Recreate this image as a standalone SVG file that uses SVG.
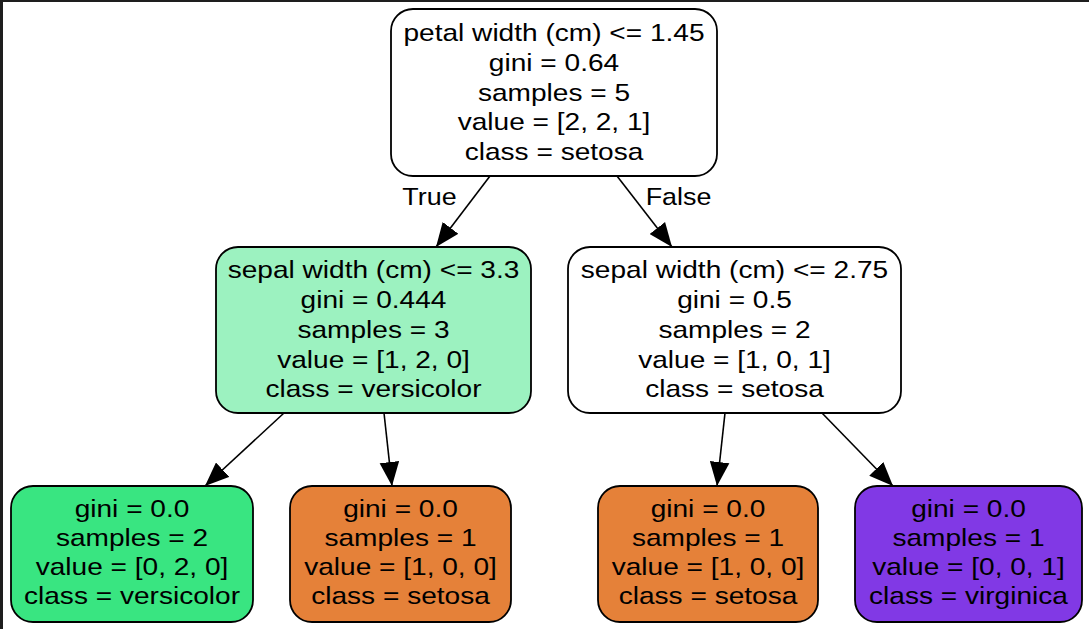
<svg xmlns="http://www.w3.org/2000/svg" width="1089" height="629" viewBox="0 0 1089 629">
<defs>
<style>
.box{stroke:#000;stroke-width:1.8}
.t{font-family:"Liberation Sans",Arial,sans-serif;font-size:24px;fill:#000;text-anchor:middle}
.e{stroke:#000;stroke-width:1.6;fill:none;marker-end:url(#ah)}
</style>
<marker id="ah" markerUnits="userSpaceOnUse" markerWidth="24" markerHeight="20" viewBox="0 0 22 18" refX="22" refY="9" orient="auto">
<path d="M0,0 L22,9 L0,18 Z" fill="#000"/>
</marker>
</defs>
<rect x="0" y="0" width="1089" height="629" fill="#fff"/>
<rect x="0" y="0" width="1089" height="2" fill="#1e1e1e"/>
<rect x="0" y="0" width="3" height="629" fill="#1e1e1e"/>

<g id="edges">
<line class="e" x1="490" y1="176" x2="436" y2="247"/>
<line class="e" x1="617" y1="176" x2="672" y2="247"/>
<line class="e" x1="284" y1="413" x2="205" y2="486"/>
<line class="e" x1="384" y1="413" x2="392" y2="486"/>
<line class="e" x1="725" y1="413" x2="717" y2="486"/>
<line class="e" x1="822" y1="413" x2="893" y2="486"/>
<g transform="translate(429.5,0) scale(1.12,1)"><text class="t" x="0" y="205">True</text></g>
<g transform="translate(678.5,0) scale(1.12,1)"><text class="t" x="0" y="205">False</text></g>
</g>

<g id="node0">
<rect class="box" x="391" y="9" width="326" height="167" rx="22" fill="#ffffff"/>
<g transform="translate(554,0) scale(1.17,1)">
<text class="t" x="0" y="41">petal width (cm) &lt;= 1.45</text>
<text class="t" x="0" y="71">gini = 0.64</text>
<text class="t" x="0" y="101">samples = 5</text>
<text class="t" x="0" y="130">value = [2, 2, 1]</text>
<text class="t" x="0" y="160">class = setosa</text>
</g>
</g>

<g id="node1">
<rect class="box" x="216" y="247" width="315" height="166" rx="22" fill="#9cf2c0"/>
<g transform="translate(373.5,0) scale(1.17,1)">
<text class="t" x="0" y="278">sepal width (cm) &lt;= 3.3</text>
<text class="t" x="0" y="308">gini = 0.444</text>
<text class="t" x="0" y="338">samples = 3</text>
<text class="t" x="0" y="368">value = [1, 2, 0]</text>
<text class="t" x="0" y="397">class = versicolor</text>
</g>
</g>

<g id="node4">
<rect class="box" x="568" y="247" width="333" height="166" rx="22" fill="#ffffff"/>
<g transform="translate(734.5,0) scale(1.17,1)">
<text class="t" x="0" y="278">sepal width (cm) &lt;= 2.75</text>
<text class="t" x="0" y="308">gini = 0.5</text>
<text class="t" x="0" y="338">samples = 2</text>
<text class="t" x="0" y="368">value = [1, 0, 1]</text>
<text class="t" x="0" y="397">class = setosa</text>
</g>
</g>

<g id="node2">
<rect class="box" x="11" y="486" width="242" height="136" rx="22" fill="#39e581"/>
<g transform="translate(132,0) scale(1.17,1)">
<text class="t" x="0" y="517">gini = 0.0</text>
<text class="t" x="0" y="546">samples = 2</text>
<text class="t" x="0" y="575">value = [0, 2, 0]</text>
<text class="t" x="0" y="604">class = versicolor</text>
</g>
</g>

<g id="node3">
<rect class="box" x="290" y="486" width="221" height="136" rx="22" fill="#e58139"/>
<g transform="translate(400.5,0) scale(1.17,1)">
<text class="t" x="0" y="517">gini = 0.0</text>
<text class="t" x="0" y="546">samples = 1</text>
<text class="t" x="0" y="575">value = [1, 0, 0]</text>
<text class="t" x="0" y="604">class = setosa</text>
</g>
</g>

<g id="node5">
<rect class="box" x="598" y="486" width="220" height="136" rx="22" fill="#e58139"/>
<g transform="translate(708,0) scale(1.17,1)">
<text class="t" x="0" y="517">gini = 0.0</text>
<text class="t" x="0" y="546">samples = 1</text>
<text class="t" x="0" y="575">value = [1, 0, 0]</text>
<text class="t" x="0" y="604">class = setosa</text>
</g>
</g>

<g id="node6">
<rect class="box" x="855" y="486" width="227" height="136" rx="22" fill="#8139e5"/>
<g transform="translate(968.5,0) scale(1.17,1)">
<text class="t" x="0" y="517">gini = 0.0</text>
<text class="t" x="0" y="546">samples = 1</text>
<text class="t" x="0" y="575">value = [0, 0, 1]</text>
<text class="t" x="0" y="604">class = virginica</text>
</g>
</g>
</svg>
